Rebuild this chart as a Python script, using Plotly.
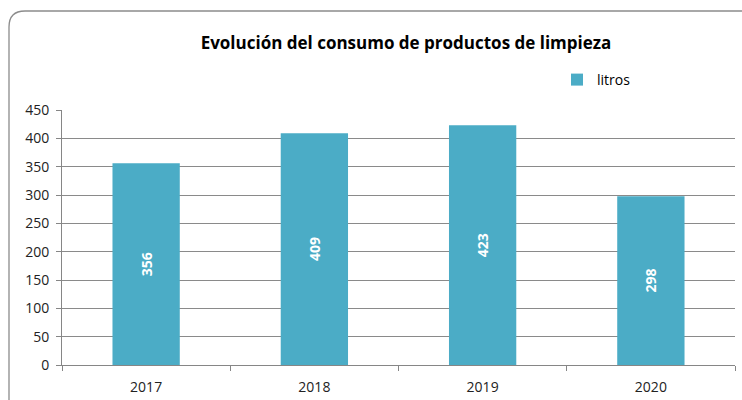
import plotly.graph_objects as go

years = ["2017", "2018", "2019", "2020"]
litros = [356, 409, 423, 298]
series_name = "litros"
title_text = "Evolución del consumo de productos de limpieza"

W, H = 742, 400
L, R, T, B = 62, 7, 110, 35
pw, ph = W - L - R, H - T - B

def px_x(x):
    return (x - L) / pw

def px_y(y):
    return (H - B - y) / ph

fig = go.Figure()
fig.add_trace(go.Bar(
    x=years, y=litros, name=series_name,
    marker=dict(color="#4BACC6", line=dict(width=0)),
    text=[str(v) for v in litros],
    textposition="inside", insidetextanchor="middle", textangle=-90,
    insidetextfont=dict(color="white", size=14, family="Open Sans"),
    texttemplate="<b>%{text}</b>",
))

# rounded border of chart area
x0, yt, yb, xr = px_x(9), px_y(11), px_y(410), px_x(760)
rx, ry = 16 / pw, 16 / ph
path = (f"M {x0},{yb} L {x0},{yt - ry} Q {x0},{yt} {x0 + rx},{yt} L {xr},{yt}")
fig.add_shape(type="path", path=path, xref="paper", yref="paper",
              line=dict(color="#8c8c8c", width=1.3), layer="below")

fig.update_layout(
    width=W, height=H,
    margin=dict(l=L, r=R, t=T, b=B, autoexpand=False),
    paper_bgcolor="white", plot_bgcolor="white",
    bargap=0.6,
    showlegend=True,
    title=dict(text=f"<b>{title_text}</b>", x=406 / W, xanchor="center",
               y=1 - 43 / H, yanchor="middle",
               font=dict(family="Open Sans", size=17, color="black")),
    legend=dict(x=px_x(557), xanchor="left", y=px_y(80), yanchor="middle",
                font=dict(family="Open Sans", size=14, color="black"),
                bgcolor="rgba(0,0,0,0)", itemwidth=30),
    font=dict(family="Open Sans", size=14, color="black"),
)
fig.update_xaxes(
    type="category", showline=True, linecolor="#868686", linewidth=1,
    ticks="outside", tickson="boundaries", ticklen=5, tickcolor="#868686",
    showgrid=False, tickfont=dict(size=14, color="#222"),
    ticklabelstandoff=9, automargin=False,
)
fig.update_yaxes(
    range=[0, 450], dtick=50, showline=True, linecolor="#868686", linewidth=1,
    ticks="outside", ticklen=5, tickcolor="#868686",
    showgrid=True, gridcolor="#8a8a8a", gridwidth=1, zeroline=False,
    tickfont=dict(size=14, color="#222"),
    ticklabelstandoff=4, automargin=False,
)

fig.write_html("out.html", config={"displayModeBar": False},
               post_script="document.body.style.margin='0';document.body.style.overflow='hidden';")
